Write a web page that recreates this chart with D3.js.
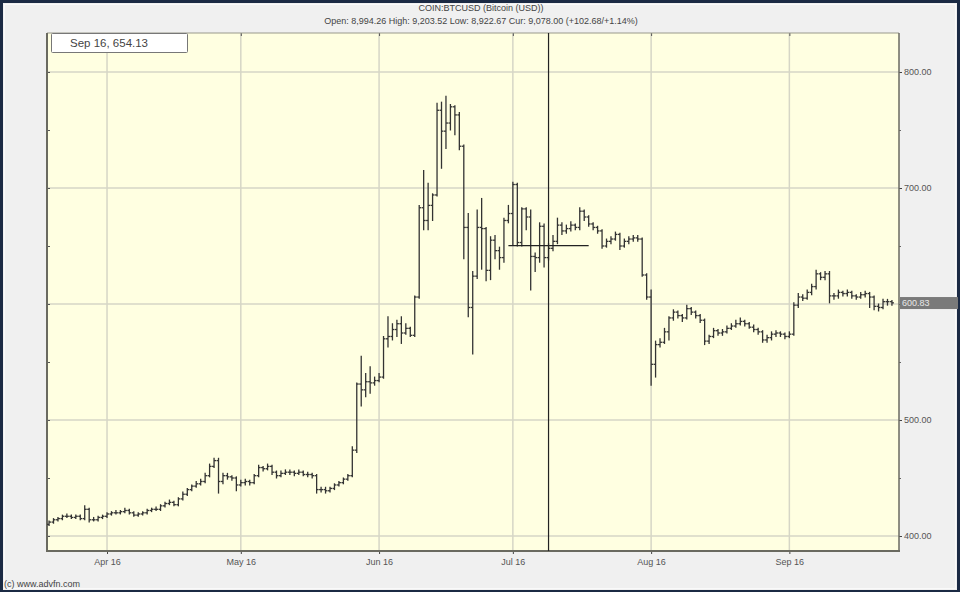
<!DOCTYPE html>
<html>
<head>
<meta charset="utf-8">
<script src="https://cdn.jsdelivr.net/npm/d3@7"></script>
<style>
html,body{margin:0;padding:0;background:#1b2a44;}
svg{display:block;}
text{font-family:"Liberation Sans",Arial,sans-serif;}
</style>
</head>
<body>
<svg id="chart" width="960" height="592"></svg>
<script>
// ---- data ----
const startDate = "2016-03-19";
const opens = [410,412,414,415,417,417,416,417,415,423,414,414,416,417,419,420,420,421,422,420,418,419,420,422,423,423,426,428,429,427,432,436,440,443,445,447,452,460,
465,447,452,451,450,444,446,447,446,452,459,458,460,455,452,454,455,455,454,455,453,453,452,440,440,439,441,444,446,449,452,
474,531,526,533,532,534,537,570,572,578,583,575,579,573,
606,683,672,685,694,767,749,756,770,763,
736,666,597,624,666,665,629,655,646,640,672,678,703,653,682,675,641,640,667,640,648,654,668,663,665,668,666,680,675,669,666,663,650,654,656,660,650,654,656,657,656,625,606,
548,565,567,576,588,593,590,588,596,593,590,
586,568,572,577,575,576,579,581,583,585,583,580,578,576,569,571,574,575,574,572,
574,599,606,605,610,615,626,623,626,607,607,610,609,610,607,606,608,609,606,598,597,602,602];
const highs = [413,415,416,418,419,418,418,418,426,424,416,417,418,420,421,422,422,424,423,421,420,421,423,424,425,427,429,431,430,433,438,441,444,447,449,454,462,467,
467,454,454,452,451,448,449,448,453,461,460,462,461,456,456,457,457,456,457,456,455,454,453,442,442,442,445,447,450,453,477,
532,555,540,546,537,540,572,589,583,586,589,583,580,607,
685,715,704,695,773,774,779,772,771,765,
737,678,628,681,691,666,658,659,649,674,685,705,704,683,683,681,644,670,669,652,659,674,670,668,671,669,683,681,676,670,667,664,656,658,662,661,656,658,659,659,657,626,612,
568,570,579,589,595,594,591,599,597,594,591,
587,573,579,578,578,581,583,586,588,586,584,582,579,577,573,576,577,576,575,576,
601,609,608,612,617,629,627,628,628,609,612,611,612,611,608,610,611,610,607,600,604,604,603];
const lows = [409,411,413,414,416,415,415,414,414,412,413,413,415,416,418,419,419,420,419,417,417,418,419,421,422,422,425,427,426,426,431,435,439,442,444,446,451,459,
437,445,449,448,439,443,444,444,445,451,456,457,453,450,451,453,453,452,453,452,451,450,437,438,437,438,440,443,445,448,451,
472,512,520,523,530,533,536,563,569,572,566,574,572,572,
605,664,664,672,693,717,734,750,746,733,
639,589,557,622,630,620,621,639,630,636,670,651,650,650,664,612,628,636,632,638,646,652,660,661,663,664,664,672,667,664,661,648,649,652,655,647,649,652,654,654,624,604,530,
537,563,566,569,586,588,585,587,591,588,584,
565,566,571,573,573,575,578,580,582,581,579,576,574,567,567,569,572,572,570,571,
573,597,603,604,608,613,621,621,601,604,605,607,607,605,604,605,606,597,595,594,596,599,599];
const closes = [412,414,415,417,417,416,417,415,423,414,414,416,417,419,420,420,421,422,420,418,419,420,422,423,423,426,428,429,427,432,436,440,443,445,447,452,460,465,
447,452,451,450,444,446,447,446,452,459,458,460,455,452,454,455,455,454,455,453,453,452,440,440,439,441,444,446,449,452,474,
531,526,533,532,534,537,570,572,578,583,575,579,573,606,
683,672,685,694,767,749,756,770,763,736,
666,597,624,666,665,629,655,646,640,672,678,703,653,682,675,641,640,667,640,648,654,668,663,665,668,666,680,675,669,666,663,650,654,656,660,650,654,656,657,656,625,606,548,
565,567,576,588,593,590,588,596,593,590,586,
568,572,577,575,576,579,581,583,585,583,580,578,576,569,571,574,575,574,572,574,
599,606,605,610,615,626,623,626,607,607,610,609,610,607,606,608,609,606,598,597,602,602,601];
const yTicks = [400,500,600,700,800];
const yMinorTicks = [450,550,650,750];
const monthTicks = ["2016-04-01","2016-05-01","2016-06-01","2016-07-01","2016-08-01","2016-09-01"];
const title = "COIN:BTCUSD (Bitcoin (USD))";
const subtitle = "Open: 8,994.26 High: 9,203.52 Low: 8,922.67 Cur: 9,078.00 (+102.68/+1.14%)";
const infoLabel = "Sep 16, 654.13";
const lastPrice = 600.83;
const crossDate = "2016-07-09";
const crossPrice = 650.3;
const crossSpanDays = 9;
const copyright = "(c) www.advfn.com";

// ---- build ----
const parse = d3.utcParse("%Y-%m-%d");
const d0 = parse(startDate);
const data = closes.map((c, i) => ({
  date: d3.utcDay.offset(d0, i), o: opens[i], h: highs[i], l: lows[i], c: c
}));

const svg = d3.select("#chart");
const W = 960, H = 592;
const plot = {left: 47, top: 33, right: 899, bottom: 551};

// outer frame
svg.append("rect").attr("x",0).attr("y",0).attr("width",W).attr("height",H).attr("fill","#1b2a44");
svg.append("rect").attr("x",3).attr("y",3).attr("width",W-6).attr("height",H-5).attr("fill","#f0f0f0");
svg.append("rect").attr("x",4.5).attr("y",4.5).attr("width",W-9).attr("height",H-8)
  .attr("fill","none").attr("stroke","#fafafa").attr("stroke-width",1);

const x = d3.scaleUtc()
  .domain([d3.utcHour.offset(d0, -11), d3.utcHour.offset(d0, Math.round(190.6*24))])
  .range([plot.left, plot.right]);
const y = d3.scaleLinear().domain([400, 800]).range([536, 72]);

// plot background
svg.append("rect").attr("x",plot.left).attr("y",plot.top)
  .attr("width",plot.right-plot.left).attr("height",plot.bottom-plot.top)
  .attr("fill","#ffffe1");

// grid
const g = svg.append("g");
const months = monthTicks.map(parse);
g.selectAll("line.vg").data(months).enter().append("line")
  .attr("x1",d=>x(d)).attr("x2",d=>x(d)).attr("y1",plot.top).attr("y2",plot.bottom)
  .attr("stroke","#d6d6c6").attr("stroke-width",1.5);
g.selectAll("line.hg").data(yTicks).enter().append("line")
  .attr("x1",plot.left).attr("x2",plot.right).attr("y1",d=>y(d)).attr("y2",d=>y(d))
  .attr("stroke","#d6d6c6").attr("stroke-width",1.5);

// axes via d3 axis (the tick nearest the last price is covered by the price box)
const fmt = d3.format(".2f");
const yAxisR = d3.axisRight(y).tickValues(yTicks).tickSize(3).tickPadding(2)
  .tickFormat(d => Math.abs(y(d) - y(lastPrice)) < 12 ? "" : fmt(d));
const yr = svg.append("g").attr("transform",`translate(${plot.right},0)`).call(yAxisR);
yr.select(".domain").remove();
yr.selectAll("line").attr("stroke","#444");
yr.selectAll("text").attr("fill","#555").style("font-size","9px").attr("dy","0.32em");
const yMinorR = d3.axisRight(y).tickValues(yMinorTicks).tickSize(2).tickFormat("");
const ym = svg.append("g").attr("transform",`translate(${plot.right},0)`).call(yMinorR);
ym.select(".domain").remove(); ym.selectAll("line").attr("stroke","#666");
const yl = svg.append("g").attr("transform",`translate(${plot.left},0)`)
  .call(d3.axisRight(y).tickValues(yTicks.concat(yMinorTicks)).tickSize(3).tickFormat(""));
yl.select(".domain").remove(); yl.selectAll("line").attr("stroke","#555");

const xAxis = d3.axisBottom(x).tickValues(months).tickSize(3).tickPadding(5)
  .tickFormat(d3.utcFormat("%b %y"));
const xa = svg.append("g").attr("transform",`translate(0,${plot.bottom})`).call(xAxis);
xa.select(".domain").remove();
xa.selectAll("line").attr("stroke","#444");
xa.selectAll("text").attr("fill","#555").style("font-size","9px");
const xt = svg.append("g").attr("transform",`translate(0,${plot.top})`)
  .call(d3.axisBottom(x).tickValues(months).tickSize(3).tickFormat(""));
xt.select(".domain").remove(); xt.selectAll("line").attr("stroke","#555");

// plot border
svg.append("line").attr("x1",plot.left).attr("x2",plot.right).attr("y1",plot.top).attr("y2",plot.top)
  .attr("stroke","#9a9a8c").attr("stroke-width",1);
svg.append("line").attr("x1",plot.left).attr("x2",plot.left).attr("y1",plot.top).attr("y2",plot.bottom+1)
  .attr("stroke","#6a6a60").attr("stroke-width",2);
svg.append("line").attr("x1",plot.left-1).attr("x2",plot.right+1).attr("y1",plot.bottom).attr("y2",plot.bottom)
  .attr("stroke","#6a6a60").attr("stroke-width",2);
svg.append("line").attr("x1",plot.right).attr("x2",plot.right).attr("y1",plot.top).attr("y2",plot.bottom)
  .attr("stroke","#6a6a60").attr("stroke-width",1.5);

// OHLC bars
const bars = svg.append("g").attr("stroke","#333").attr("stroke-width",1.3).attr("fill","none");
const bar = bars.selectAll("g").data(data).enter().append("g");
bar.append("line").attr("x1",d=>x(d.date)).attr("x2",d=>x(d.date))
  .attr("y1",d=>y(d.h)-0.5).attr("y2",d=>y(d.l)+0.5);
bar.append("line").attr("x1",d=>x(d.date)-2).attr("x2",d=>x(d.date))
  .attr("y1",d=>y(d.o)).attr("y2",d=>y(d.o));
bar.append("line").attr("x1",d=>x(d.date)).attr("x2",d=>x(d.date)+2)
  .attr("y1",d=>y(d.c)).attr("y2",d=>y(d.c));

// crosshair
const cd = parse(crossDate);
svg.append("line").attr("x1",x(cd)).attr("x2",x(cd)).attr("y1",plot.top).attr("y2",plot.bottom)
  .attr("stroke","#222").attr("stroke-width",1.2);
svg.append("line")
  .attr("x1",x(d3.utcDay.offset(cd,-crossSpanDays))).attr("x2",x(d3.utcDay.offset(cd,crossSpanDays)))
  .attr("y1",y(crossPrice)).attr("y2",y(crossPrice))
  .attr("stroke","#222").attr("stroke-width",1.2);

// last price label
svg.append("rect").attr("x",plot.right+1).attr("y",y(lastPrice)-6).attr("width",58).attr("height",12)
  .attr("fill","#7a7a7a");
svg.append("text").attr("x",plot.right+3).attr("y",y(lastPrice)).attr("dy","0.35em")
  .attr("fill","#e8e8e8").style("font-size","9px").text(fmt(lastPrice));

// info box
svg.append("rect").attr("x",51.5).attr("y",33.5).attr("width",136).attr("height",19)
  .attr("fill","#ffffff").attr("stroke","#777").attr("stroke-width",1).attr("rx",1);
svg.append("text").attr("x",70).attr("y",47).attr("fill","#444").style("font-size","11.5px").text(infoLabel);

// header
svg.append("text").attr("x",481).attr("y",11).attr("text-anchor","middle").attr("fill","#444")
  .style("font-size","9px").text(title);
svg.append("text").attr("x",481).attr("y",24).attr("text-anchor","middle").attr("fill","#444")
  .style("font-size","9px").text(subtitle);
svg.append("text").attr("x",4).attr("y",587).attr("fill","#444").style("font-size","9px").text(copyright);
</script>
</body>
</html>
